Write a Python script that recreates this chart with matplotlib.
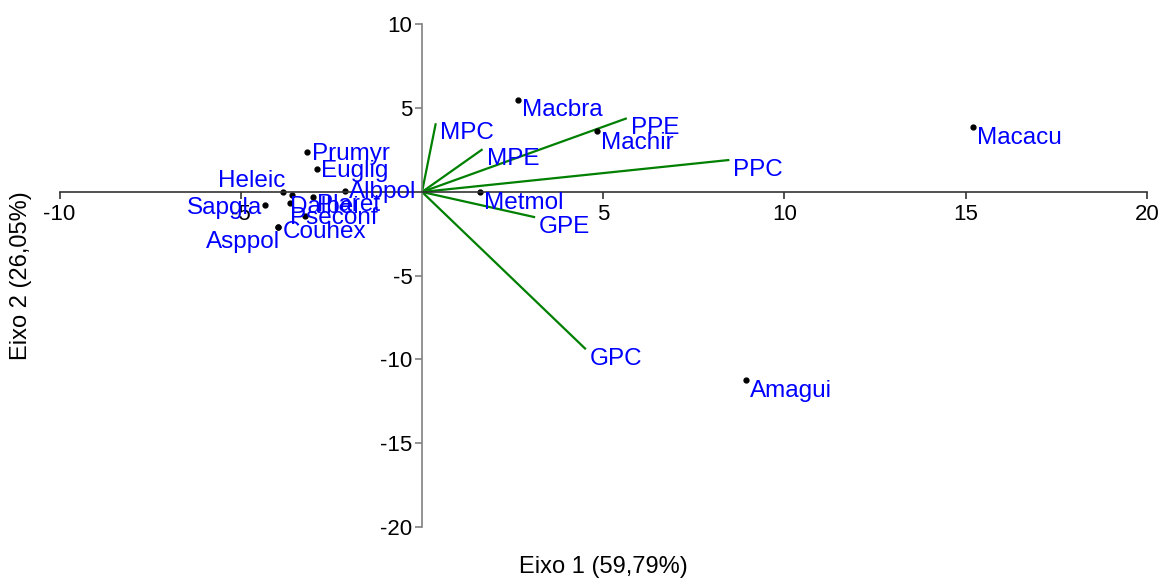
import matplotlib
matplotlib.use("Agg")
import matplotlib.pyplot as plt

plt.rcParams['font.family'] = ['Liberation Sans', 'DejaVu Sans']
plt.rcParams['axes.unicode_minus'] = False

# sitios / especies (scores)
nomes = ["Macbra", "Machir", "Macacu", "Metmol", "Amagui", "Prumyr", "Euglig",
         "Albpol", "Heleic", "Sapgla", "Couhex", "Asppol", "Dalbei", "Plaret",
         "Pseconf", "Bauhin"]
eixo1 = [2.65, 4.83, 15.2, 1.6, 8.94, -3.17, -2.9,
         -2.12, -3.83, -4.33, -3.97, -3.97, -3.6, -3.02,
         -3.63, -3.23]
eixo2 = [5.49, 3.64, 3.88, -0.02, -11.2, 2.39, 1.37,
         0.08, -0.02, -0.8, -2.1, -2.1, -0.2, -0.32,
         -0.64, -1.43]
# deslocamento dos rotulos (pixels) e alinhamento
desl = [(4, -10), (4, -12), (4, -11), (4, -11), (4, -11), (5, -2), (4, -2),
        (4, -1), (2, 11), (-3, -3), (5, -5), (2, -15), (-2, -12), (4, -8),
        (0, -15), (0, 0)]
alinh = ["left", "left", "left", "left", "left", "left", "left",
         "left", "right", "right", "left", "right", "left", "left",
         "left", "left"]
mostra = [True] * 15 + [False]

# variaveis (vetores)
variaveis = ["MPC", "MPE", "PPE", "PPC", "GPE", "GPC"]
v1 = [0.38, 1.67, 5.65, 8.48, 3.12, 4.52]
v2 = [4.1, 2.55, 4.4, 1.91, -1.51, -9.39]

xticks = [-10, -5, 5, 10, 15, 20]
yticks = [10, 5, -5, -10, -15, -20]

fig = plt.figure(figsize=(11.63, 5.79), dpi=100)
ax = fig.add_axes([0.0512, 0.0898, 0.935, 0.868])
ax.set_xlim(-10, 20)
ax.set_ylim(-20, 10)

for x, y, nome in zip(v1, v2, variaveis):
    ax.plot([0, x], [0, y], color="#008000", lw=1.6, solid_capstyle="butt")
    ax.annotate(nome, (x, y), xytext=(4, -10), textcoords="offset pixels",
                ha="left", va="center", color="#0000FF", fontsize=17.5)

ax.plot(eixo1, eixo2, "o", color="black", ms=3.5, ls="none")
for x, y, nome, d, a, m in zip(eixo1, eixo2, nomes, desl, alinh, mostra):
    if not m:
        continue
    ax.annotate(nome, (x, y), xytext=d, textcoords="offset pixels",
                ha=a, va="center", color="#0000FF", fontsize=17.5)

ax.spines["left"].set_position(("data", 0))
ax.spines["bottom"].set_position(("data", 0))
ax.spines["right"].set_visible(False)
ax.spines["top"].set_visible(False)
ax.spines["left"].set_color("#808080")
ax.spines["bottom"].set_color("#333333")
ax.spines["left"].set_linewidth(1.2)
ax.spines["bottom"].set_linewidth(1.2)

ax.set_xticks(xticks)
ax.set_yticks(yticks)
ax.tick_params(axis="x", colors="#333333", labelcolor="black", labelsize=16,
               length=5, width=1.2, pad=4)
ax.tick_params(axis="y", colors="#808080", labelcolor="black", labelsize=16,
               length=5, width=1.2, pad=2)

ax.set_xlabel("Eixo 1 (59,79%)", fontsize=17)
ax.set_ylabel("Eixo 2 (26,05%)", fontsize=17)
ax.xaxis.set_label_coords(0.5, -0.058)
ax.yaxis.set_label_coords(-0.025, 0.5)

fig.savefig("out.png", dpi=100)
